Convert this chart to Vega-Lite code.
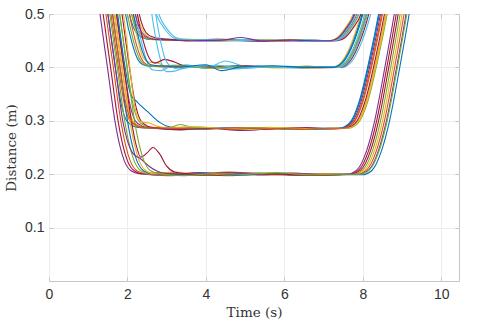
{
"$schema": "https://vega.github.io/schema/vega-lite/v6.json",
"width": 410, "height": 267,
"autosize": "none",
"padding": {"left": 49, "top": 14, "right": 20, "bottom": 40},
"background": "white",
"config": {
  "view": {"stroke": "#c6c6c6", "strokeWidth": 1},
  "axis": {"domain": false, "tickColor": "#c6c6c6", "tickSize": -4, "gridColor": "#ececec", "gridWidth": 1, "labelFlush": false,
           "labelFont": "Liberation Sans", "labelFontSize": 14, "labelColor": "#333333",
           "titleFont": "DejaVu Serif", "titleFontSize": 13.5, "titleFontWeight": "normal", "titleColor": "#333333"}
},
"data": {"values": [
{"s":"A1","c":4,"t":1.00,"y":0.68},{"s":"A1","c":4,"t":1.30,"y":0.5},{"s":"A1","c":4,"t":1.49,"y":0.4},{"s":"A1","c":4,"t":1.68,"y":0.3},{"s":"A1","c":4,"t":1.80,"y":0.255},{"s":"A1","c":4,"t":1.92,"y":0.225},{"s":"A1","c":4,"t":2.10,"y":0.206},{"s":"A1","c":4,"t":2.30,"y":0.201},{"s":"A1","c":4,"t":3.0,"y":0.198},{"s":"A1","c":4,"t":3.8,"y":0.203},{"s":"A1","c":4,"t":4.6,"y":0.199},{"s":"A1","c":4,"t":5.4,"y":0.201},{"s":"A1","c":4,"t":6.2,"y":0.198},{"s":"A1","c":4,"t":7.0,"y":0.2},{"s":"A1","c":4,"t":7.60,"y":0.2},{"s":"A1","c":4,"t":7.85,"y":0.208},{"s":"A1","c":4,"t":8.10,"y":0.245},{"s":"A1","c":4,"t":8.30,"y":0.3},{"s":"A1","c":4,"t":8.56,"y":0.4},{"s":"A1","c":4,"t":8.80,"y":0.5},{"s":"A1","c":4,"t":9.05,"y":0.62},
{"s":"D1","c":1,"t":1.80,"y":0.66},{"s":"D1","c":1,"t":2.05,"y":0.5},{"s":"D1","c":1,"t":2.15,"y":0.475},{"s":"D1","c":1,"t":2.30,"y":0.459},{"s":"D1","c":1,"t":2.50,"y":0.453},{"s":"D1","c":1,"t":2.75,"y":0.452},{"s":"D1","c":1,"t":3.4,"y":0.451},{"s":"D1","c":1,"t":4.2,"y":0.452},{"s":"D1","c":1,"t":5.0,"y":0.45},{"s":"D1","c":1,"t":5.8,"y":0.451},{"s":"D1","c":1,"t":6.6,"y":0.449},{"s":"D1","c":1,"t":7.20,"y":0.45},{"s":"D1","c":1,"t":7.40,"y":0.456},{"s":"D1","c":1,"t":7.60,"y":0.474},{"s":"D1","c":1,"t":7.80,"y":0.5},{"s":"D1","c":1,"t":8.00,"y":0.56},
{"s":"B1","c":1,"t":1.20,"y":0.68},{"s":"B1","c":1,"t":1.50,"y":0.5},{"s":"B1","c":1,"t":1.69,"y":0.4},{"s":"B1","c":1,"t":1.83,"y":0.335},{"s":"B1","c":1,"t":1.98,"y":0.3},{"s":"B1","c":1,"t":2.15,"y":0.29},{"s":"B1","c":1,"t":2.35,"y":0.287},{"s":"B1","c":1,"t":3.0,"y":0.285},{"s":"B1","c":1,"t":3.8,"y":0.288},{"s":"B1","c":1,"t":4.6,"y":0.284},{"s":"B1","c":1,"t":5.4,"y":0.286},{"s":"B1","c":1,"t":6.2,"y":0.285},{"s":"B1","c":1,"t":7.0,"y":0.286},{"s":"B1","c":1,"t":7.42,"y":0.286},{"s":"B1","c":1,"t":7.67,"y":0.295},{"s":"B1","c":1,"t":7.92,"y":0.335},{"s":"B1","c":1,"t":8.17,"y":0.41},{"s":"B1","c":1,"t":8.42,"y":0.5},{"s":"B1","c":1,"t":8.67,"y":0.61},
{"s":"C1","c":1,"t":1.65,"y":0.68},{"s":"C1","c":1,"t":1.95,"y":0.5},{"s":"C1","c":1,"t":2.10,"y":0.45},{"s":"C1","c":1,"t":2.25,"y":0.417},{"s":"C1","c":1,"t":2.40,"y":0.405},{"s":"C1","c":1,"t":2.60,"y":0.402},{"s":"C1","c":1,"t":3.2,"y":0.404},{"s":"C1","c":1,"t":4.0,"y":0.401},{"s":"C1","c":1,"t":4.8,"y":0.403},{"s":"C1","c":1,"t":5.6,"y":0.4},{"s":"C1","c":1,"t":6.4,"y":0.401},{"s":"C1","c":1,"t":7.25,"y":0.4},{"s":"C1","c":1,"t":7.50,"y":0.41},{"s":"C1","c":1,"t":7.70,"y":0.435},{"s":"C1","c":1,"t":7.88,"y":0.47},{"s":"C1","c":1,"t":8.00,"y":0.5},{"s":"C1","c":1,"t":8.20,"y":0.57},
{"s":"A2","c":7,"t":1.08,"y":0.68},{"s":"A2","c":7,"t":1.38,"y":0.5},{"s":"A2","c":7,"t":1.57,"y":0.4},{"s":"A2","c":7,"t":1.76,"y":0.3},{"s":"A2","c":7,"t":1.88,"y":0.255},{"s":"A2","c":7,"t":2.00,"y":0.225},{"s":"A2","c":7,"t":2.18,"y":0.206},{"s":"A2","c":7,"t":2.38,"y":0.201},{"s":"A2","c":7,"t":3.0,"y":0.203},{"s":"A2","c":7,"t":3.8,"y":0.198},{"s":"A2","c":7,"t":4.6,"y":0.202},{"s":"A2","c":7,"t":5.4,"y":0.199},{"s":"A2","c":7,"t":6.2,"y":0.202},{"s":"A2","c":7,"t":7.0,"y":0.199},{"s":"A2","c":7,"t":7.70,"y":0.2},{"s":"A2","c":7,"t":7.95,"y":0.208},{"s":"A2","c":7,"t":8.20,"y":0.245},{"s":"A2","c":7,"t":8.40,"y":0.3},{"s":"A2","c":7,"t":8.66,"y":0.4},{"s":"A2","c":7,"t":8.90,"y":0.5},{"s":"A2","c":7,"t":9.15,"y":0.62},
{"s":"D2","c":2,"t":1.90,"y":0.66},{"s":"D2","c":2,"t":2.15,"y":0.5},{"s":"D2","c":2,"t":2.25,"y":0.475},{"s":"D2","c":2,"t":2.40,"y":0.459},{"s":"D2","c":2,"t":2.60,"y":0.453},{"s":"D2","c":2,"t":2.85,"y":0.452},{"s":"D2","c":2,"t":3.5,"y":0.45},{"s":"D2","c":2,"t":4.3,"y":0.453},{"s":"D2","c":2,"t":5.1,"y":0.45},{"s":"D2","c":2,"t":5.9,"y":0.449},{"s":"D2","c":2,"t":6.7,"y":0.451},{"s":"D2","c":2,"t":7.25,"y":0.45},{"s":"D2","c":2,"t":7.45,"y":0.456},{"s":"D2","c":2,"t":7.65,"y":0.474},{"s":"D2","c":2,"t":7.85,"y":0.5},{"s":"D2","c":2,"t":8.05,"y":0.56},
{"s":"B2","c":2,"t":1.28,"y":0.68},{"s":"B2","c":2,"t":1.58,"y":0.5},{"s":"B2","c":2,"t":1.77,"y":0.4},{"s":"B2","c":2,"t":1.91,"y":0.335},{"s":"B2","c":2,"t":2.06,"y":0.3},{"s":"B2","c":2,"t":2.23,"y":0.29},{"s":"B2","c":2,"t":2.43,"y":0.287},{"s":"B2","c":2,"t":3.1,"y":0.288},{"s":"B2","c":2,"t":3.9,"y":0.284},{"s":"B2","c":2,"t":4.7,"y":0.287},{"s":"B2","c":2,"t":5.5,"y":0.285},{"s":"B2","c":2,"t":6.3,"y":0.287},{"s":"B2","c":2,"t":7.1,"y":0.285},{"s":"B2","c":2,"t":7.50,"y":0.286},{"s":"B2","c":2,"t":7.75,"y":0.295},{"s":"B2","c":2,"t":8.00,"y":0.335},{"s":"B2","c":2,"t":8.25,"y":0.41},{"s":"B2","c":2,"t":8.50,"y":0.5},{"s":"B2","c":2,"t":8.75,"y":0.61},
{"s":"C2","c":2,"t":1.75,"y":0.68},{"s":"C2","c":2,"t":2.05,"y":0.5},{"s":"C2","c":2,"t":2.20,"y":0.45},{"s":"C2","c":2,"t":2.35,"y":0.417},{"s":"C2","c":2,"t":2.50,"y":0.405},{"s":"C2","c":2,"t":2.70,"y":0.402},{"s":"C2","c":2,"t":3.3,"y":0.4},{"s":"C2","c":2,"t":4.1,"y":0.403},{"s":"C2","c":2,"t":4.9,"y":0.4},{"s":"C2","c":2,"t":5.7,"y":0.402},{"s":"C2","c":2,"t":6.5,"y":0.399},{"s":"C2","c":2,"t":7.35,"y":0.4},{"s":"C2","c":2,"t":7.60,"y":0.41},{"s":"C2","c":2,"t":7.80,"y":0.435},{"s":"C2","c":2,"t":7.98,"y":0.47},{"s":"C2","c":2,"t":8.10,"y":0.5},{"s":"C2","c":2,"t":8.30,"y":0.57},
{"s":"A3","c":2,"t":1.15,"y":0.68},{"s":"A3","c":2,"t":1.45,"y":0.5},{"s":"A3","c":2,"t":1.64,"y":0.4},{"s":"A3","c":2,"t":1.83,"y":0.3},{"s":"A3","c":2,"t":1.95,"y":0.255},{"s":"A3","c":2,"t":2.07,"y":0.225},{"s":"A3","c":2,"t":2.25,"y":0.206},{"s":"A3","c":2,"t":2.45,"y":0.201},{"s":"A3","c":2,"t":3.0,"y":0.197},{"s":"A3","c":2,"t":3.8,"y":0.2},{"s":"A3","c":2,"t":4.6,"y":0.204},{"s":"A3","c":2,"t":5.4,"y":0.2},{"s":"A3","c":2,"t":6.2,"y":0.199},{"s":"A3","c":2,"t":7.0,"y":0.201},{"s":"A3","c":2,"t":7.85,"y":0.2},{"s":"A3","c":2,"t":8.10,"y":0.208},{"s":"A3","c":2,"t":8.35,"y":0.245},{"s":"A3","c":2,"t":8.55,"y":0.3},{"s":"A3","c":2,"t":8.81,"y":0.4},{"s":"A3","c":2,"t":9.05,"y":0.5},{"s":"A3","c":2,"t":9.30,"y":0.62},
{"s":"D3","c":3,"t":2.00,"y":0.66},{"s":"D3","c":3,"t":2.25,"y":0.5},{"s":"D3","c":3,"t":2.35,"y":0.475},{"s":"D3","c":3,"t":2.50,"y":0.459},{"s":"D3","c":3,"t":2.70,"y":0.453},{"s":"D3","c":3,"t":2.95,"y":0.451},{"s":"D3","c":3,"t":3.6,"y":0.452},{"s":"D3","c":3,"t":4.4,"y":0.449},{"s":"D3","c":3,"t":5.2,"y":0.451},{"s":"D3","c":3,"t":6.0,"y":0.452},{"s":"D3","c":3,"t":6.8,"y":0.45},{"s":"D3","c":3,"t":7.15,"y":0.45},{"s":"D3","c":3,"t":7.35,"y":0.456},{"s":"D3","c":3,"t":7.55,"y":0.474},{"s":"D3","c":3,"t":7.75,"y":0.5},{"s":"D3","c":3,"t":7.95,"y":0.56},
{"s":"B3","c":3,"t":1.36,"y":0.68},{"s":"B3","c":3,"t":1.66,"y":0.5},{"s":"B3","c":3,"t":1.85,"y":0.4},{"s":"B3","c":3,"t":1.99,"y":0.335},{"s":"B3","c":3,"t":2.14,"y":0.3},{"s":"B3","c":3,"t":2.31,"y":0.29},{"s":"B3","c":3,"t":2.51,"y":0.287},{"s":"B3","c":3,"t":3.2,"y":0.285},{"s":"B3","c":3,"t":4.0,"y":0.287},{"s":"B3","c":3,"t":4.8,"y":0.285},{"s":"B3","c":3,"t":5.6,"y":0.288},{"s":"B3","c":3,"t":6.4,"y":0.284},{"s":"B3","c":3,"t":7.2,"y":0.286},{"s":"B3","c":3,"t":7.58,"y":0.286},{"s":"B3","c":3,"t":7.83,"y":0.295},{"s":"B3","c":3,"t":8.08,"y":0.335},{"s":"B3","c":3,"t":8.33,"y":0.41},{"s":"B3","c":3,"t":8.58,"y":0.5},{"s":"B3","c":3,"t":8.83,"y":0.61},
{"s":"C3","c":3,"t":1.82,"y":0.68},{"s":"C3","c":3,"t":2.12,"y":0.5},{"s":"C3","c":3,"t":2.27,"y":0.45},{"s":"C3","c":3,"t":2.40,"y":0.418},{"s":"C3","c":3,"t":2.55,"y":0.41},{"s":"C3","c":3,"t":2.75,"y":0.409},{"s":"C3","c":3,"t":2.95,"y":0.403},{"s":"C3","c":3,"t":3.5,"y":0.401},{"s":"C3","c":3,"t":4.3,"y":0.398},{"s":"C3","c":3,"t":5.1,"y":0.401},{"s":"C3","c":3,"t":5.9,"y":0.399},{"s":"C3","c":3,"t":6.7,"y":0.401},{"s":"C3","c":3,"t":7.20,"y":0.4},{"s":"C3","c":3,"t":7.45,"y":0.41},{"s":"C3","c":3,"t":7.65,"y":0.435},{"s":"C3","c":3,"t":7.83,"y":0.47},{"s":"C3","c":3,"t":7.95,"y":0.5},{"s":"C3","c":3,"t":8.15,"y":0.57},
{"s":"A4","c":5,"t":1.25,"y":0.68},{"s":"A4","c":5,"t":1.55,"y":0.5},{"s":"A4","c":5,"t":1.74,"y":0.4},{"s":"A4","c":5,"t":1.93,"y":0.3},{"s":"A4","c":5,"t":2.05,"y":0.255},{"s":"A4","c":5,"t":2.17,"y":0.225},{"s":"A4","c":5,"t":2.35,"y":0.206},{"s":"A4","c":5,"t":2.55,"y":0.201},{"s":"A4","c":5,"t":3.0,"y":0.202},{"s":"A4","c":5,"t":3.8,"y":0.199},{"s":"A4","c":5,"t":4.6,"y":0.197},{"s":"A4","c":5,"t":5.4,"y":0.202},{"s":"A4","c":5,"t":6.2,"y":0.2},{"s":"A4","c":5,"t":7.0,"y":0.198},{"s":"A4","c":5,"t":7.75,"y":0.2},{"s":"A4","c":5,"t":8.00,"y":0.208},{"s":"A4","c":5,"t":8.25,"y":0.245},{"s":"A4","c":5,"t":8.45,"y":0.3},{"s":"A4","c":5,"t":8.71,"y":0.4},{"s":"A4","c":5,"t":8.95,"y":0.5},{"s":"A4","c":5,"t":9.20,"y":0.62},
{"s":"D4","c":5,"t":1.85,"y":0.66},{"s":"D4","c":5,"t":2.10,"y":0.5},{"s":"D4","c":5,"t":2.20,"y":0.475},{"s":"D4","c":5,"t":2.35,"y":0.459},{"s":"D4","c":5,"t":2.55,"y":0.453},{"s":"D4","c":5,"t":2.80,"y":0.452},{"s":"D4","c":5,"t":3.4,"y":0.453},{"s":"D4","c":5,"t":4.2,"y":0.45},{"s":"D4","c":5,"t":5.0,"y":0.452},{"s":"D4","c":5,"t":5.8,"y":0.45},{"s":"D4","c":5,"t":6.6,"y":0.451},{"s":"D4","c":5,"t":7.30,"y":0.45},{"s":"D4","c":5,"t":7.50,"y":0.456},{"s":"D4","c":5,"t":7.70,"y":0.474},{"s":"D4","c":5,"t":7.90,"y":0.5},{"s":"D4","c":5,"t":8.10,"y":0.56},
{"s":"B4","c":4,"t":1.42,"y":0.68},{"s":"B4","c":4,"t":1.72,"y":0.5},{"s":"B4","c":4,"t":1.91,"y":0.4},{"s":"B4","c":4,"t":2.05,"y":0.335},{"s":"B4","c":4,"t":2.20,"y":0.3},{"s":"B4","c":4,"t":2.37,"y":0.29},{"s":"B4","c":4,"t":2.57,"y":0.287},{"s":"B4","c":4,"t":3.3,"y":0.283},{"s":"B4","c":4,"t":4.1,"y":0.286},{"s":"B4","c":4,"t":4.9,"y":0.282},{"s":"B4","c":4,"t":5.7,"y":0.285},{"s":"B4","c":4,"t":6.5,"y":0.287},{"s":"B4","c":4,"t":7.1,"y":0.285},{"s":"B4","c":4,"t":7.45,"y":0.286},{"s":"B4","c":4,"t":7.70,"y":0.295},{"s":"B4","c":4,"t":7.95,"y":0.335},{"s":"B4","c":4,"t":8.20,"y":0.41},{"s":"B4","c":4,"t":8.45,"y":0.5},{"s":"B4","c":4,"t":8.70,"y":0.61},
{"s":"C4","c":6,"t":1.90,"y":0.68},{"s":"C4","c":6,"t":2.20,"y":0.5},{"s":"C4","c":6,"t":2.35,"y":0.45},{"s":"C4","c":6,"t":2.50,"y":0.41},{"s":"C4","c":6,"t":2.65,"y":0.395},{"s":"C4","c":6,"t":2.85,"y":0.394},{"s":"C4","c":6,"t":3.1,"y":0.402},{"s":"C4","c":6,"t":3.5,"y":0.405},{"s":"C4","c":6,"t":4.0,"y":0.398},{"s":"C4","c":6,"t":4.5,"y":0.412},{"s":"C4","c":6,"t":5.0,"y":0.402},{"s":"C4","c":6,"t":5.8,"y":0.4},{"s":"C4","c":6,"t":6.6,"y":0.401},{"s":"C4","c":6,"t":7.30,"y":0.4},{"s":"C4","c":6,"t":7.55,"y":0.41},{"s":"C4","c":6,"t":7.75,"y":0.435},{"s":"C4","c":6,"t":7.93,"y":0.47},{"s":"C4","c":6,"t":8.05,"y":0.5},{"s":"C4","c":6,"t":8.25,"y":0.57},
{"s":"A5","c":1,"t":1.32,"y":0.68},{"s":"A5","c":1,"t":1.62,"y":0.5},{"s":"A5","c":1,"t":1.81,"y":0.4},{"s":"A5","c":1,"t":2.00,"y":0.3},{"s":"A5","c":1,"t":2.12,"y":0.255},{"s":"A5","c":1,"t":2.24,"y":0.225},{"s":"A5","c":1,"t":2.42,"y":0.206},{"s":"A5","c":1,"t":2.62,"y":0.201},{"s":"A5","c":1,"t":3.2,"y":0.199},{"s":"A5","c":1,"t":4.0,"y":0.202},{"s":"A5","c":1,"t":4.8,"y":0.198},{"s":"A5","c":1,"t":5.6,"y":0.2},{"s":"A5","c":1,"t":6.4,"y":0.201},{"s":"A5","c":1,"t":7.2,"y":0.199},{"s":"A5","c":1,"t":7.98,"y":0.199},{"s":"A5","c":1,"t":8.23,"y":0.207},{"s":"A5","c":1,"t":8.48,"y":0.245},{"s":"A5","c":1,"t":8.68,"y":0.3},{"s":"A5","c":1,"t":8.94,"y":0.4},{"s":"A5","c":1,"t":9.18,"y":0.5},{"s":"A5","c":1,"t":9.43,"y":0.62},
{"s":"D5","c":7,"t":2.05,"y":0.66},{"s":"D5","c":7,"t":2.30,"y":0.5},{"s":"D5","c":7,"t":2.40,"y":0.475},{"s":"D5","c":7,"t":2.55,"y":0.46},{"s":"D5","c":7,"t":2.75,"y":0.455},{"s":"D5","c":7,"t":3.0,"y":0.453},{"s":"D5","c":7,"t":3.7,"y":0.45},{"s":"D5","c":7,"t":4.5,"y":0.452},{"s":"D5","c":7,"t":5.3,"y":0.449},{"s":"D5","c":7,"t":6.1,"y":0.451},{"s":"D5","c":7,"t":6.9,"y":0.45},{"s":"D5","c":7,"t":7.35,"y":0.45},{"s":"D5","c":7,"t":7.55,"y":0.456},{"s":"D5","c":7,"t":7.75,"y":0.474},{"s":"D5","c":7,"t":7.95,"y":0.5},{"s":"D5","c":7,"t":8.15,"y":0.56},
{"s":"B5","c":5,"t":1.50,"y":0.68},{"s":"B5","c":5,"t":1.80,"y":0.5},{"s":"B5","c":5,"t":1.99,"y":0.4},{"s":"B5","c":5,"t":2.13,"y":0.335},{"s":"B5","c":5,"t":2.28,"y":0.3},{"s":"B5","c":5,"t":2.45,"y":0.29},{"s":"B5","c":5,"t":2.65,"y":0.287},{"s":"B5","c":5,"t":3.0,"y":0.286},{"s":"B5","c":5,"t":3.35,"y":0.293},{"s":"B5","c":5,"t":3.7,"y":0.287},{"s":"B5","c":5,"t":4.4,"y":0.285},{"s":"B5","c":5,"t":5.2,"y":0.287},{"s":"B5","c":5,"t":6.0,"y":0.284},{"s":"B5","c":5,"t":6.8,"y":0.286},{"s":"B5","c":5,"t":7.62,"y":0.286},{"s":"B5","c":5,"t":7.87,"y":0.295},{"s":"B5","c":5,"t":8.12,"y":0.335},{"s":"B5","c":5,"t":8.37,"y":0.41},{"s":"B5","c":5,"t":8.62,"y":0.5},{"s":"B5","c":5,"t":8.87,"y":0.61},
{"s":"C5","c":6,"t":2.35,"y":0.68},{"s":"C5","c":6,"t":2.62,"y":0.5},{"s":"C5","c":6,"t":2.76,"y":0.44},{"s":"C5","c":6,"t":2.88,"y":0.405},{"s":"C5","c":6,"t":3.0,"y":0.392},{"s":"C5","c":6,"t":3.2,"y":0.393},{"s":"C5","c":6,"t":3.5,"y":0.401},{"s":"C5","c":6,"t":4.0,"y":0.404},{"s":"C5","c":6,"t":4.6,"y":0.397},{"s":"C5","c":6,"t":5.3,"y":0.4},{"s":"C5","c":6,"t":6.1,"y":0.402},{"s":"C5","c":6,"t":6.9,"y":0.4},{"s":"C5","c":6,"t":7.45,"y":0.4},{"s":"C5","c":6,"t":7.70,"y":0.41},{"s":"C5","c":6,"t":7.90,"y":0.435},{"s":"C5","c":6,"t":8.08,"y":0.47},{"s":"C5","c":6,"t":8.20,"y":0.5},{"s":"C5","c":6,"t":8.40,"y":0.57},
{"s":"A6","c":3,"t":1.38,"y":0.68},{"s":"A6","c":3,"t":1.68,"y":0.5},{"s":"A6","c":3,"t":1.87,"y":0.4},{"s":"A6","c":3,"t":2.06,"y":0.3},{"s":"A6","c":3,"t":2.18,"y":0.255},{"s":"A6","c":3,"t":2.30,"y":0.225},{"s":"A6","c":3,"t":2.48,"y":0.206},{"s":"A6","c":3,"t":2.68,"y":0.201},{"s":"A6","c":3,"t":3.2,"y":0.204},{"s":"A6","c":3,"t":4.0,"y":0.199},{"s":"A6","c":3,"t":4.8,"y":0.201},{"s":"A6","c":3,"t":5.6,"y":0.198},{"s":"A6","c":3,"t":6.4,"y":0.2},{"s":"A6","c":3,"t":7.2,"y":0.201},{"s":"A6","c":3,"t":7.80,"y":0.2},{"s":"A6","c":3,"t":8.05,"y":0.208},{"s":"A6","c":3,"t":8.30,"y":0.245},{"s":"A6","c":3,"t":8.50,"y":0.3},{"s":"A6","c":3,"t":8.76,"y":0.4},{"s":"A6","c":3,"t":9.00,"y":0.5},{"s":"A6","c":3,"t":9.25,"y":0.62},
{"s":"D6","c":6,"t":2.45,"y":0.58},{"s":"D6","c":6,"t":2.73,"y":0.5},{"s":"D6","c":6,"t":2.95,"y":0.472},{"s":"D6","c":6,"t":3.16,"y":0.456},{"s":"D6","c":6,"t":3.4,"y":0.451},{"s":"D6","c":6,"t":4.2,"y":0.449},{"s":"D6","c":6,"t":5.0,"y":0.452},{"s":"D6","c":6,"t":5.8,"y":0.45},{"s":"D6","c":6,"t":6.6,"y":0.451},{"s":"D6","c":6,"t":7.22,"y":0.45},{"s":"D6","c":6,"t":7.42,"y":0.456},{"s":"D6","c":6,"t":7.62,"y":0.474},{"s":"D6","c":6,"t":7.82,"y":0.5},{"s":"D6","c":6,"t":8.02,"y":0.56},
{"s":"B6","c":7,"t":1.56,"y":0.68},{"s":"B6","c":7,"t":1.86,"y":0.5},{"s":"B6","c":7,"t":2.05,"y":0.4},{"s":"B6","c":7,"t":2.19,"y":0.335},{"s":"B6","c":7,"t":2.34,"y":0.3},{"s":"B6","c":7,"t":2.51,"y":0.29},{"s":"B6","c":7,"t":2.71,"y":0.287},{"s":"B6","c":7,"t":3.4,"y":0.284},{"s":"B6","c":7,"t":4.2,"y":0.286},{"s":"B6","c":7,"t":5.0,"y":0.283},{"s":"B6","c":7,"t":5.8,"y":0.285},{"s":"B6","c":7,"t":6.6,"y":0.287},{"s":"B6","c":7,"t":7.2,"y":0.285},{"s":"B6","c":7,"t":7.55,"y":0.286},{"s":"B6","c":7,"t":7.80,"y":0.295},{"s":"B6","c":7,"t":8.05,"y":0.335},{"s":"B6","c":7,"t":8.30,"y":0.41},{"s":"B6","c":7,"t":8.55,"y":0.5},{"s":"B6","c":7,"t":8.80,"y":0.61},
{"s":"C6","c":7,"t":1.95,"y":0.68},{"s":"C6","c":7,"t":2.25,"y":0.5},{"s":"C6","c":7,"t":2.40,"y":0.45},{"s":"C6","c":7,"t":2.55,"y":0.418},{"s":"C6","c":7,"t":2.70,"y":0.408},{"s":"C6","c":7,"t":2.95,"y":0.415},{"s":"C6","c":7,"t":3.2,"y":0.41},{"s":"C6","c":7,"t":3.5,"y":0.402},{"s":"C6","c":7,"t":4.2,"y":0.4},{"s":"C6","c":7,"t":5.0,"y":0.403},{"s":"C6","c":7,"t":5.8,"y":0.4},{"s":"C6","c":7,"t":6.6,"y":0.402},{"s":"C6","c":7,"t":7.40,"y":0.4},{"s":"C6","c":7,"t":7.65,"y":0.41},{"s":"C6","c":7,"t":7.85,"y":0.435},{"s":"C6","c":7,"t":8.03,"y":0.47},{"s":"C6","c":7,"t":8.15,"y":0.5},{"s":"C6","c":7,"t":8.35,"y":0.57},
{"s":"A7","c":7,"t":1.42,"y":0.68},{"s":"A7","c":7,"t":1.72,"y":0.5},{"s":"A7","c":7,"t":1.91,"y":0.4},{"s":"A7","c":7,"t":2.10,"y":0.3},{"s":"A7","c":7,"t":2.22,"y":0.255},{"s":"A7","c":7,"t":2.34,"y":0.232},{"s":"A7","c":7,"t":2.50,"y":0.24},{"s":"A7","c":7,"t":2.65,"y":0.25},{"s":"A7","c":7,"t":2.82,"y":0.238},{"s":"A7","c":7,"t":3.0,"y":0.215},{"s":"A7","c":7,"t":3.2,"y":0.204},{"s":"A7","c":7,"t":3.5,"y":0.201},{"s":"A7","c":7,"t":4.3,"y":0.198},{"s":"A7","c":7,"t":5.1,"y":0.202},{"s":"A7","c":7,"t":5.9,"y":0.2},{"s":"A7","c":7,"t":6.7,"y":0.198},{"s":"A7","c":7,"t":7.65,"y":0.2},{"s":"A7","c":7,"t":7.90,"y":0.208},{"s":"A7","c":7,"t":8.15,"y":0.245},{"s":"A7","c":7,"t":8.35,"y":0.3},{"s":"A7","c":7,"t":8.61,"y":0.4},{"s":"A7","c":7,"t":8.85,"y":0.5},{"s":"A7","c":7,"t":9.10,"y":0.62},
{"s":"B7","c":1,"t":1.45,"y":0.68},{"s":"B7","c":1,"t":1.75,"y":0.5},{"s":"B7","c":1,"t":1.94,"y":0.4},{"s":"B7","c":1,"t":2.08,"y":0.35},{"s":"B7","c":1,"t":2.25,"y":0.335},{"s":"B7","c":1,"t":2.56,"y":0.314},{"s":"B7","c":1,"t":2.82,"y":0.297},{"s":"B7","c":1,"t":3.1,"y":0.288},{"s":"B7","c":1,"t":3.6,"y":0.285},{"s":"B7","c":1,"t":4.4,"y":0.287},{"s":"B7","c":1,"t":5.2,"y":0.285},{"s":"B7","c":1,"t":6.0,"y":0.286},{"s":"B7","c":1,"t":6.8,"y":0.284},{"s":"B7","c":1,"t":7.40,"y":0.286},{"s":"B7","c":1,"t":7.65,"y":0.295},{"s":"B7","c":1,"t":7.90,"y":0.335},{"s":"B7","c":1,"t":8.15,"y":0.41},{"s":"B7","c":1,"t":8.40,"y":0.5},{"s":"B7","c":1,"t":8.65,"y":0.61},
{"s":"D7","c":6,"t":2.55,"y":0.6},{"s":"D7","c":6,"t":2.80,"y":0.5},{"s":"D7","c":6,"t":2.98,"y":0.475},{"s":"D7","c":6,"t":3.15,"y":0.46},{"s":"D7","c":6,"t":3.35,"y":0.453},{"s":"D7","c":6,"t":3.6,"y":0.451},{"s":"D7","c":6,"t":4.3,"y":0.452},{"s":"D7","c":6,"t":5.1,"y":0.45},{"s":"D7","c":6,"t":5.9,"y":0.451},{"s":"D7","c":6,"t":6.7,"y":0.449},{"s":"D7","c":6,"t":7.28,"y":0.45},{"s":"D7","c":6,"t":7.48,"y":0.456},{"s":"D7","c":6,"t":7.68,"y":0.474},{"s":"D7","c":6,"t":7.88,"y":0.5},{"s":"D7","c":6,"t":8.08,"y":0.56},
{"s":"C7","c":5,"t":1.70,"y":0.68},{"s":"C7","c":5,"t":2.00,"y":0.5},{"s":"C7","c":5,"t":2.15,"y":0.45},{"s":"C7","c":5,"t":2.30,"y":0.417},{"s":"C7","c":5,"t":2.45,"y":0.405},{"s":"C7","c":5,"t":2.65,"y":0.402},{"s":"C7","c":5,"t":3.3,"y":0.403},{"s":"C7","c":5,"t":4.1,"y":0.399},{"s":"C7","c":5,"t":4.9,"y":0.402},{"s":"C7","c":5,"t":5.7,"y":0.4},{"s":"C7","c":5,"t":6.5,"y":0.402},{"s":"C7","c":5,"t":7.33,"y":0.4},{"s":"C7","c":5,"t":7.58,"y":0.41},{"s":"C7","c":5,"t":7.78,"y":0.435},{"s":"C7","c":5,"t":7.96,"y":0.47},{"s":"C7","c":5,"t":8.08,"y":0.5},{"s":"C7","c":5,"t":8.28,"y":0.57},
{"s":"A8","c":4,"t":1.20,"y":0.68},{"s":"A8","c":4,"t":1.50,"y":0.5},{"s":"A8","c":4,"t":1.69,"y":0.4},{"s":"A8","c":4,"t":1.88,"y":0.3},{"s":"A8","c":4,"t":2.00,"y":0.262},{"s":"A8","c":4,"t":2.13,"y":0.24},{"s":"A8","c":4,"t":2.35,"y":0.228},{"s":"A8","c":4,"t":2.55,"y":0.215},{"s":"A8","c":4,"t":2.75,"y":0.206},{"s":"A8","c":4,"t":3.0,"y":0.201},{"s":"A8","c":4,"t":3.8,"y":0.2},{"s":"A8","c":4,"t":4.6,"y":0.203},{"s":"A8","c":4,"t":5.4,"y":0.199},{"s":"A8","c":4,"t":6.2,"y":0.201},{"s":"A8","c":4,"t":7.0,"y":0.2},{"s":"A8","c":4,"t":7.90,"y":0.2},{"s":"A8","c":4,"t":8.15,"y":0.208},{"s":"A8","c":4,"t":8.40,"y":0.245},{"s":"A8","c":4,"t":8.60,"y":0.3},{"s":"A8","c":4,"t":8.86,"y":0.4},{"s":"A8","c":4,"t":9.10,"y":0.5},{"s":"A8","c":4,"t":9.35,"y":0.62},
{"s":"D8","c":4,"t":1.95,"y":0.66},{"s":"D8","c":4,"t":2.20,"y":0.5},{"s":"D8","c":4,"t":2.30,"y":0.475},{"s":"D8","c":4,"t":2.45,"y":0.459},{"s":"D8","c":4,"t":2.65,"y":0.453},{"s":"D8","c":4,"t":2.90,"y":0.452},{"s":"D8","c":4,"t":3.6,"y":0.45},{"s":"D8","c":4,"t":4.4,"y":0.451},{"s":"D8","c":4,"t":4.9,"y":0.456},{"s":"D8","c":4,"t":5.4,"y":0.45},{"s":"D8","c":4,"t":6.2,"y":0.451},{"s":"D8","c":4,"t":6.9,"y":0.45},{"s":"D8","c":4,"t":7.18,"y":0.45},{"s":"D8","c":4,"t":7.38,"y":0.456},{"s":"D8","c":4,"t":7.58,"y":0.474},{"s":"D8","c":4,"t":7.78,"y":0.5},{"s":"D8","c":4,"t":7.98,"y":0.56},
{"s":"B8","c":3,"t":1.60,"y":0.68},{"s":"B8","c":3,"t":1.90,"y":0.5},{"s":"B8","c":3,"t":2.06,"y":0.4},{"s":"B8","c":3,"t":2.18,"y":0.33},{"s":"B8","c":3,"t":2.28,"y":0.302},{"s":"B8","c":3,"t":2.40,"y":0.297},{"s":"B8","c":3,"t":2.55,"y":0.296},{"s":"B8","c":3,"t":2.75,"y":0.29},{"s":"B8","c":3,"t":3.0,"y":0.287},{"s":"B8","c":3,"t":3.6,"y":0.289},{"s":"B8","c":3,"t":4.4,"y":0.286},{"s":"B8","c":3,"t":5.2,"y":0.284},{"s":"B8","c":3,"t":6.0,"y":0.287},{"s":"B8","c":3,"t":6.8,"y":0.285},{"s":"B8","c":3,"t":7.60,"y":0.286},{"s":"B8","c":3,"t":7.85,"y":0.295},{"s":"B8","c":3,"t":8.10,"y":0.335},{"s":"B8","c":3,"t":8.35,"y":0.41},{"s":"B8","c":3,"t":8.60,"y":0.5},{"s":"B8","c":3,"t":8.85,"y":0.61},
{"s":"C8","c":6,"t":2.45,"y":0.68},{"s":"C8","c":6,"t":2.72,"y":0.5},{"s":"C8","c":6,"t":2.84,"y":0.45},{"s":"C8","c":6,"t":2.95,"y":0.418},{"s":"C8","c":6,"t":3.1,"y":0.402},{"s":"C8","c":6,"t":3.3,"y":0.397},{"s":"C8","c":6,"t":3.7,"y":0.401},{"s":"C8","c":6,"t":4.3,"y":0.404},{"s":"C8","c":6,"t":4.9,"y":0.398},{"s":"C8","c":6,"t":5.6,"y":0.401},{"s":"C8","c":6,"t":6.4,"y":0.399},{"s":"C8","c":6,"t":7.1,"y":0.401},{"s":"C8","c":6,"t":7.37,"y":0.4},{"s":"C8","c":6,"t":7.62,"y":0.41},{"s":"C8","c":6,"t":7.82,"y":0.435},{"s":"C8","c":6,"t":8.00,"y":0.47},{"s":"C8","c":6,"t":8.12,"y":0.5},{"s":"C8","c":6,"t":8.32,"y":0.57},
{"s":"A9","c":5,"t":1.50,"y":0.68},{"s":"A9","c":5,"t":1.80,"y":0.5},{"s":"A9","c":5,"t":1.99,"y":0.4},{"s":"A9","c":5,"t":2.18,"y":0.3},{"s":"A9","c":5,"t":2.30,"y":0.255},{"s":"A9","c":5,"t":2.42,"y":0.225},{"s":"A9","c":5,"t":2.60,"y":0.206},{"s":"A9","c":5,"t":2.80,"y":0.201},{"s":"A9","c":5,"t":3.4,"y":0.197},{"s":"A9","c":5,"t":4.2,"y":0.201},{"s":"A9","c":5,"t":5.0,"y":0.2},{"s":"A9","c":5,"t":5.8,"y":0.203},{"s":"A9","c":5,"t":6.6,"y":0.199},{"s":"A9","c":5,"t":7.3,"y":0.2},{"s":"A9","c":5,"t":7.92,"y":0.2},{"s":"A9","c":5,"t":8.17,"y":0.208},{"s":"A9","c":5,"t":8.42,"y":0.245},{"s":"A9","c":5,"t":8.62,"y":0.3},{"s":"A9","c":5,"t":8.88,"y":0.4},{"s":"A9","c":5,"t":9.12,"y":0.5},{"s":"A9","c":5,"t":9.37,"y":0.62},
{"s":"B9","c":2,"t":1.32,"y":0.68},{"s":"B9","c":2,"t":1.62,"y":0.5},{"s":"B9","c":2,"t":1.81,"y":0.4},{"s":"B9","c":2,"t":1.95,"y":0.335},{"s":"B9","c":2,"t":2.10,"y":0.3},{"s":"B9","c":2,"t":2.27,"y":0.29},{"s":"B9","c":2,"t":2.47,"y":0.287},{"s":"B9","c":2,"t":3.2,"y":0.286},{"s":"B9","c":2,"t":4.0,"y":0.284},{"s":"B9","c":2,"t":4.8,"y":0.287},{"s":"B9","c":2,"t":5.6,"y":0.286},{"s":"B9","c":2,"t":6.4,"y":0.284},{"s":"B9","c":2,"t":7.1,"y":0.286},{"s":"B9","c":2,"t":7.48,"y":0.286},{"s":"B9","c":2,"t":7.73,"y":0.295},{"s":"B9","c":2,"t":7.98,"y":0.335},{"s":"B9","c":2,"t":8.23,"y":0.41},{"s":"B9","c":2,"t":8.48,"y":0.5},{"s":"B9","c":2,"t":8.73,"y":0.61},
{"s":"C9","c":1,"t":1.85,"y":0.68},{"s":"C9","c":1,"t":2.15,"y":0.5},{"s":"C9","c":1,"t":2.30,"y":0.45},{"s":"C9","c":1,"t":2.45,"y":0.417},{"s":"C9","c":1,"t":2.60,"y":0.405},{"s":"C9","c":1,"t":2.80,"y":0.403},{"s":"C9","c":1,"t":3.4,"y":0.401},{"s":"C9","c":1,"t":4.0,"y":0.405},{"s":"C9","c":1,"t":4.4,"y":0.394},{"s":"C9","c":1,"t":4.9,"y":0.401},{"s":"C9","c":1,"t":5.7,"y":0.403},{"s":"C9","c":1,"t":6.5,"y":0.4},{"s":"C9","c":1,"t":7.23,"y":0.4},{"s":"C9","c":1,"t":7.48,"y":0.41},{"s":"C9","c":1,"t":7.68,"y":0.435},{"s":"C9","c":1,"t":7.86,"y":0.47},{"s":"C9","c":1,"t":7.98,"y":0.5},{"s":"C9","c":1,"t":8.18,"y":0.57}
]},
"layer": [
  {
    "mark": {"type": "line", "clip": true, "strokeWidth": 1.1, "interpolate": "monotone"},
    "encoding": {
      "x": {"field": "t", "type": "quantitative", "scale": {"domain": [0, 10.45], "nice": false, "zero": false},
            "axis": {"orient": "bottom", "values": [0, 2, 4, 6, 8, 10], "title": "Time (s)", "grid": true, "labelPadding": 10, "titlePadding": 4}},
      "y": {"field": "y", "type": "quantitative", "scale": {"domain": [0, 0.5], "nice": false, "zero": false},
            "axis": {"orient": "left", "values": [0.1, 0.2, 0.3, 0.4, 0.5], "format": ".1f", "title": "Distance (m)", "grid": true, "labelPadding": 9, "titlePadding": 6}},
      "detail": {"field": "s", "type": "nominal"},
      "color": {"field": "c", "type": "nominal", "legend": null,
                "scale": {"domain": [1, 2, 3, 4, 5, 6, 7], "range": ["#0072BD", "#D95319", "#EDB120", "#7E2F8E", "#77AC30", "#4DBEEE", "#A2142F"]}}
    }
  },
  {
    "mark": {"type": "line", "opacity": 0},
    "encoding": {
      "x": {"field": "t", "type": "quantitative", "axis": {"orient": "top", "values": [0, 2, 4, 6, 8, 10], "labels": false, "title": null, "grid": false}},
      "y": {"field": "y", "type": "quantitative", "axis": {"orient": "right", "values": [0.1, 0.2, 0.3, 0.4, 0.5], "labels": false, "title": null, "grid": false}},
      "detail": {"field": "s", "type": "nominal"}
    }
  }
],
"resolve": {"axis": {"x": "independent", "y": "independent"}}
}
